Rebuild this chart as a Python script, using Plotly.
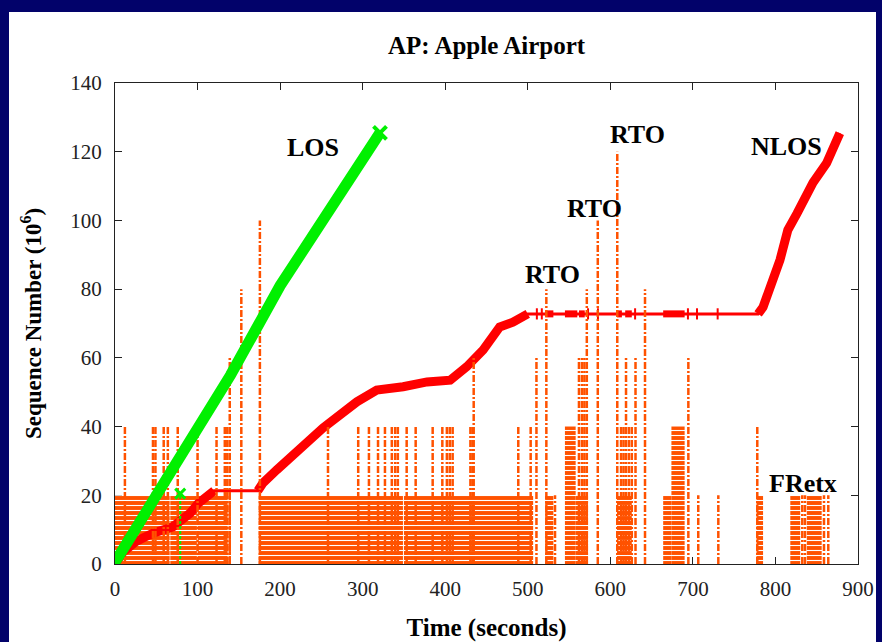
import plotly.graph_objects as go

# ---------------- data ----------------
# LOS transfer: time (s) vs. sequence number (10^6)
los_time = [0, 75, 140, 200, 260, 321]
los_seq = [0.5, 29, 55, 81, 103.5, 125.5]
los_retx_time = [79]
los_retx_seq = [20.5]

# NLOS transfer
nlos_time = [0, 10, 25, 46, 70, 91, 101, 111, 120, 173, 179, 196, 212, 252, 293,
             317, 349, 378, 406, 426, 446, 466, 482, 500, 779, 785, 805.5, 815,
             826, 845.5, 862, 878]
nlos_seq = [0, 3.5, 6.5, 9, 10.8, 14.8, 17.7, 19.6, 21.3, 21.3, 23.5, 27.4, 30.8,
            39.6, 47.2, 50.6, 51.6, 53, 53.5, 57.4, 62.3, 69, 70.4, 72.8, 72.8,
            74.8, 88.5, 97.2, 102, 111, 116.7, 125.4]
# periods where the NLOS sender is stalled (drawn thin)
stall_start = [120, 500]
stall_end = [173, 779]
# short packet bursts during the long stall
burst_start = [521, 545, 562, 608, 618, 664]
burst_end = [531, 560, 569, 614, 626, 690]
burst_seq = [72.8, 72.8, 72.8, 72.8, 72.8, 72.8]
pkt_time = [511, 517, 573, 585, 630, 694, 705, 730]
pkt_seq = [72.8, 72.8, 72.8, 72.8, 72.8, 72.8, 72.8, 72.8]

# Retransmission bursts (dense runs of events), start/end time and marker height
band_start = [0, 67, 100, 137.5, 174, 350, 521, 545, 558, 608, 664, 674, 777, 818, 838]
band_end = [66.2, 99.2, 136.5, 140.5, 348.8, 506.5, 531, 558, 573, 626, 674, 690, 785, 830, 856]
band_top = [20, 20, 20, 20, 20, 20, 20, 40, 20, 20, 20, 40, 20, 20, 20]

# Individual retransmission events: time and marker height (RTO backoff shown taller)
retx_time = [12, 46, 49, 59, 64, 76, 100, 123, 133, 136, 139, 153, 175.5,
             258, 294.6, 307.6, 318.6, 327, 335.3, 339.4, 342.6, 353.3, 364.2,
             384.8, 396.5, 402, 405.5, 409, 430.5, 433, 434.5, 488.5, 503.5,
             510.5, 522.5, 533, 562, 565.6, 568.6, 571.5, 584.8, 608.4, 613,
             616, 619, 622.5, 626, 630.5, 642, 694.5, 706.5, 730.8, 778, 832.5,
             835.8, 858.8, 864]
retx_height = [40, 40, 40, 40, 40, 40, 40, 40, 40, 40, 60, 80, 100,
               40, 40, 40, 40, 40, 40, 40, 40, 40, 40,
               40, 40, 40, 40, 40, 40, 40, 60, 40, 40,
               60, 80, 20, 60, 60, 60, 80, 100, 120, 40,
               40, 60, 40, 40, 60, 80, 60, 20, 20, 40, 20,
               20, 20, 20]

x_ticks = [0, 100, 200, 300, 400, 500, 600, 700, 800, 900]
y_ticks = [0, 20, 40, 60, 80, 100, 120, 140]

labels = ["LOS", "NLOS", "RTO", "RTO", "RTO", "FRetx"]
label_x = [240, 813.5, 530, 581.4, 632.9, 833.7]
label_y = [121.2, 121.5, 84.4, 103.6, 124.9, 23.4]

# ---------------- styles ----------------
ORANGE = "#FF5200"
RED = "#FF0000"
GREEN = "#00F000"
NAVY = "#02026A"
SERIF = "Liberation Serif, Times New Roman, serif"

fig = go.Figure()

# dense retransmission bursts
fig.add_trace(go.Bar(
    x=[(a + b) / 2 for a, b in zip(band_start, band_end)],
    y=band_top,
    width=[b - a for a, b in zip(band_start, band_end)],
    base=0,
    marker=dict(color=ORANGE, line=dict(width=0),
                pattern=dict(shape="-", fgcolor="white", bgcolor=ORANGE,
                             size=5, solidity=0.22, fillmode="replace")),
    hoverinfo="skip",
))

# NLOS: thin line over the whole transfer
fig.add_trace(go.Scatter(x=nlos_time, y=nlos_seq, mode="lines",
                         line=dict(color=RED, width=3), hoverinfo="skip"))

# NLOS: thick where packets are flowing
thick_x, thick_y = [], []
for i, (t, s) in enumerate(zip(nlos_time, nlos_seq)):
    if i > 0 and any(nlos_time[i - 1] >= a and t <= b
                     for a, b in zip(stall_start, stall_end)):
        thick_x.append(None)
        thick_y.append(None)
    thick_x.append(t)
    thick_y.append(s)
fig.add_trace(go.Scatter(x=thick_x, y=thick_y, mode="lines",
                         line=dict(color=RED, width=9), hoverinfo="skip"))

# NLOS: bursts during the stall
bx, by = [], []
for a, b, s in zip(burst_start, burst_end, burst_seq):
    bx += [a, b, None]
    by += [s, s, None]
fig.add_trace(go.Scatter(x=bx, y=by, mode="lines",
                         line=dict(color=RED, width=7), hoverinfo="skip"))
fig.add_trace(go.Scatter(x=pkt_time, y=pkt_seq, mode="markers",
                         marker=dict(symbol="line-ns", size=8,
                                     line=dict(color=RED, width=2)),
                         hoverinfo="skip"))

# individual retransmission impulses
rx, ry = [], []
for t, h in zip(retx_time, retx_height):
    rx += [t, t, None]
    ry += [0, h, None]
fig.add_trace(go.Scatter(x=rx, y=ry, mode="lines",
                         line=dict(color=ORANGE, width=2.5, dash="7px,2px,2px,2px"),
                         hoverinfo="skip"))

# LOS transfer
fig.add_trace(go.Scatter(x=los_time, y=los_seq, mode="lines",
                         line=dict(color=GREEN, width=11), hoverinfo="skip"))
fig.add_trace(go.Scatter(x=[los_time[0], los_time[-1]], y=[los_seq[0], los_seq[-1]],
                         mode="markers",
                         marker=dict(symbol="x-thin", size=13,
                                     line=dict(color=GREEN, width=4)),
                         hoverinfo="skip"))
gx, gy = [], []
for t, s in zip(los_retx_time, los_retx_seq):
    gx += [t, t, None]
    gy += [0, s, None]
fig.add_trace(go.Scatter(x=gx, y=gy, mode="lines",
                         line=dict(color=GREEN, width=2, dash="3px,2px"),
                         hoverinfo="skip"))
fig.add_trace(go.Scatter(x=los_retx_time, y=los_retx_seq, mode="markers",
                         marker=dict(symbol="x-thin", size=10,
                                     line=dict(color=GREEN, width=3)),
                         hoverinfo="skip"))

for txt, x, y in zip(labels, label_x, label_y):
    fig.add_annotation(x=x, y=y, text="<b>%s</b>" % txt, showarrow=False,
                       font=dict(family=SERIF, size=26, color="black"))

# white slide panel behind the chart
W, H = 882, 642
L, R, T, B = 115, 24, 83, 78
pw, ph = W - L - R, H - T - B
fig.add_shape(type="rect", xref="paper", yref="paper", layer="below",
              x0=(9 - L) / pw, x1=(876 - L) / pw,
              y0=(H - B - 642) / ph, y1=(H - B - 12) / ph,
              fillcolor="white", line=dict(width=0))

axis_common = dict(showgrid=False, zeroline=False, showline=True, linecolor="#222",
                   linewidth=1, mirror="ticks", ticks="inside", ticklen=7,
                   tickwidth=1, tickcolor="#222", layer="below traces",
                   tickfont=dict(family=SERIF, size=21, color="#222"))

fig.update_layout(
    width=W, height=H,
    margin=dict(l=L, r=R, t=T, b=B, autoexpand=False),
    paper_bgcolor=NAVY, plot_bgcolor="white",
    showlegend=False, barmode="overlay",
    title=dict(text="<b>AP: Apple Airport</b>", x=0.5, xref="paper",
               y=1 - 45 / H, yanchor="middle",
               font=dict(family=SERIF, size=25, color="black")),
    xaxis=dict(range=[0, 900], tickvals=x_ticks, ticklabelstandoff=6,
               title=dict(text="<b>Time (seconds)</b>", standoff=18,
                          font=dict(family=SERIF, size=25, color="black")),
               **axis_common),
    yaxis=dict(range=[0, 140], tickvals=y_ticks, ticklabelstandoff=8,
               title=dict(text="<b>Sequence Number (10<sup>6</sup>)</b>", standoff=22,
                          font=dict(family=SERIF, size=23, color="black")),
               **axis_common),
)

fig.write_html("out.html")
